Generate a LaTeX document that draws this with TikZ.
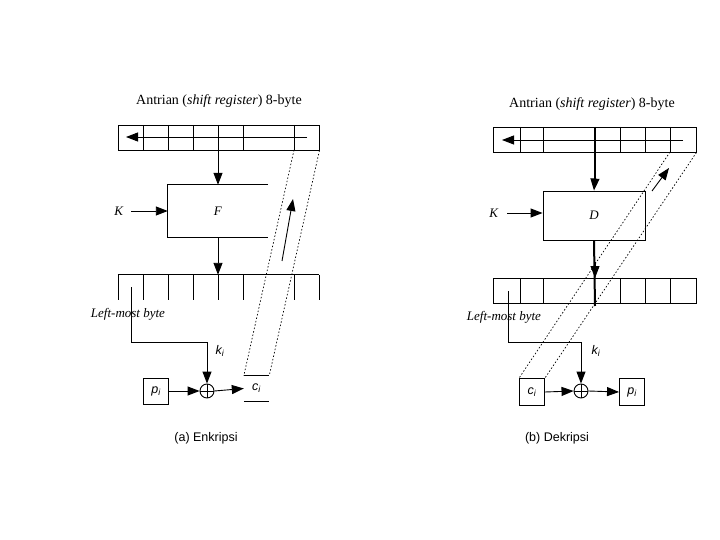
\documentclass[tikz,border=0pt]{standalone}
\usepackage{fontspec}
\setmainfont{Liberation Serif}
\newfontfamily\lsans{Liberation Sans}
\usetikzlibrary{arrows.meta}
\tikzset{
  arr/.style={-{Triangle[length=12pt,width=9pt]}, line width=0.9pt},
  ln/.style={line width=0.9pt},
  thk/.style={line width=2pt},
  dot/.style={line width=0.7pt, dash pattern=on 1.5pt off 2pt},
  ttl/.style={inner sep=0pt, font=\fontsize{14}{16}\selectfont},
  lbl/.style={inner sep=0pt, font=\fontsize{13}{15}\selectfont},
  slbl/.style={inner sep=0pt, font=\lsans\fontsize{12.5}{15}\selectfont},
  cell/.style={draw, line width=0.9pt, inner sep=0pt, minimum width=25pt, minimum height=25pt, font=\lsans\fontsize{12.5}{15}\selectfont},
  xor/.style={draw, circle, line width=0.9pt, minimum size=14pt, inner sep=0pt}
}
\newcommand{\sub}[2]{\textit{#1\textsubscript{#2}}}
\begin{document}
\begin{tikzpicture}[x=1pt,y=-1pt]
\useasboundingbox (0,0) rectangle (720,540);

% ================= (a) Enkripsi =================
\node[ttl] (titleA) at (219,101) {Antrian (\textit{shift register}) 8-byte};
\node[draw, ln, inner sep=0pt, minimum width=201pt, minimum height=25pt] (regA) at (218.5,137.5) {};
\foreach \x in {143,168,193,218,243,294} \draw[ln] (\x,125) -- (\x,150);
\coordinate (rAs) at (307,137);
\coordinate (rAe) at (126,137);
\draw[arr] (rAs) -- (rAe);

\node[inner sep=0pt, minimum width=100pt, minimum height=52pt] (F) at (218,211) {};
\draw[ln] (F.north east) -- (F.north west) -- (F.south west) -- (F.south east);
\node[lbl] at (F.center) {\textit{F}};
\node[lbl] (KA) at (119,211) {\textit{K}};
\coordinate (kAs) at (131,211);
\draw[arr] (kAs) -- (kAs -| F.west);
\draw[arr] (regA.south -| F.north) -- (F.north);

\node[inner sep=0pt, minimum width=201pt, minimum height=25pt] (regA2) at (218.5,287.5) {};
\draw[ln] (regA2.north west) -- (regA2.north east);
\foreach \x in {118,143,168,193,218,243,294,319} \draw[ln] (\x,275) -- (\x,300);
\draw[arr] (F.south) -- (F.south |- regA2.north);

\node[lbl] (lmbA) at (128,314) {\textit{Left-most byte}};
\node[xor] (xA) at (207,391) {};
\draw[ln] (xA.north) -- (xA.south) (xA.west) -- (xA.east);
\coordinate (lA) at (131,287);
\draw[arr] (lA) -- (131,342) -- (207,342) -- (xA.north);
\node[slbl] (kA) at (220,351) {\sub{k}{i}};

\node[cell, minimum height=26pt] (pA) at (156,391) {\sub{p}{i}};
\draw[arr] (pA.east) -- (xA.west);
\node[slbl, minimum width=25pt, minimum height=25pt] (cA) at (256.5,388.5) {\sub{c}{i}};
\draw[ln] (cA.north west) -- (cA.north east) (cA.south west) -- (cA.south east);
\draw[arr] (xA.east) -- (cA.west);

\draw[dot] (294,150) -- (cA.north west);
\draw[dot] (regA.south east) -- (cA.north east);
\coordinate (uA1) at (282,261);
\coordinate (uA2) at (293,199);
\draw[arr] (uA1) -- (uA2);

\node[slbl] (capA) at (206,438) {(a) Enkripsi};

% ================= (b) Dekripsi =================
\node[ttl] (titleB) at (592,104) {Antrian (\textit{shift register}) 8-byte};
\node[draw, ln, inner sep=0pt, minimum width=203pt, minimum height=25pt] (regB) at (594.5,139.5) {};
\foreach \x in {520,543,620,645,670} \draw[ln] (\x,127) -- (\x,152);
\coordinate (rBs) at (683,140);
\coordinate (rBe) at (502,140);
\draw[arr] (rBs) -- (rBe);

\node[draw, ln, inner sep=0pt, minimum width=102pt, minimum height=49pt, font=\fontsize{13}{15}\selectfont] (D) at (594,215.5) {\textit{D}};
\node[lbl] (KB) at (494,213) {\textit{K}};
\coordinate (kBs) at (507,213);
\draw[arr] (kBs) -- (kBs -| D.west);
\coordinate (tB) at (595,127);
\draw[thk] (tB) -- (595,180);
\draw[arr] (595,178) -- (D.north);

\node[draw, ln, inner sep=0pt, minimum width=203pt, minimum height=25pt] (regB2) at (594.5,290.5) {};
\foreach \x in {520,543,620,645,670} \draw[ln] (\x,278) -- (\x,303);
\draw[thk] (D.south) -- (595,306);
\draw[arr] (595,262) -- (595,278);

\node[lbl] (lmbB) at (504,317) {\textit{Left-most byte}};
\node[xor] (xB) at (581,391) {};
\draw[ln] (xB.north) -- (xB.south) (xB.west) -- (xB.east);
\coordinate (lB) at (508,291);
\draw[arr] (lB) -- (508,342) -- (581,342) -- (xB.north);
\node[slbl] (kB) at (596,351) {\sub{k}{i}};

\node[cell, minimum height=27pt] (cB) at (532,392) {\sub{c}{i}};
\node[cell, minimum height=27pt] (pB) at (632,392) {\sub{p}{i}};
\draw[arr] (cB.east) -- (xB.west);
\draw[arr] (xB.east) -- (pB.west);

\draw[dot] (670,152) -- (cB.north west);
\draw[dot] (regB.south east) -- (cB.north east);
\coordinate (uB1) at (652,191);
\coordinate (uB2) at (669,168);
\draw[arr] (uB1) -- (uB2);

\node[slbl] (capB) at (557,438) {(b) Dekripsi};
\end{tikzpicture}
\end{document}
